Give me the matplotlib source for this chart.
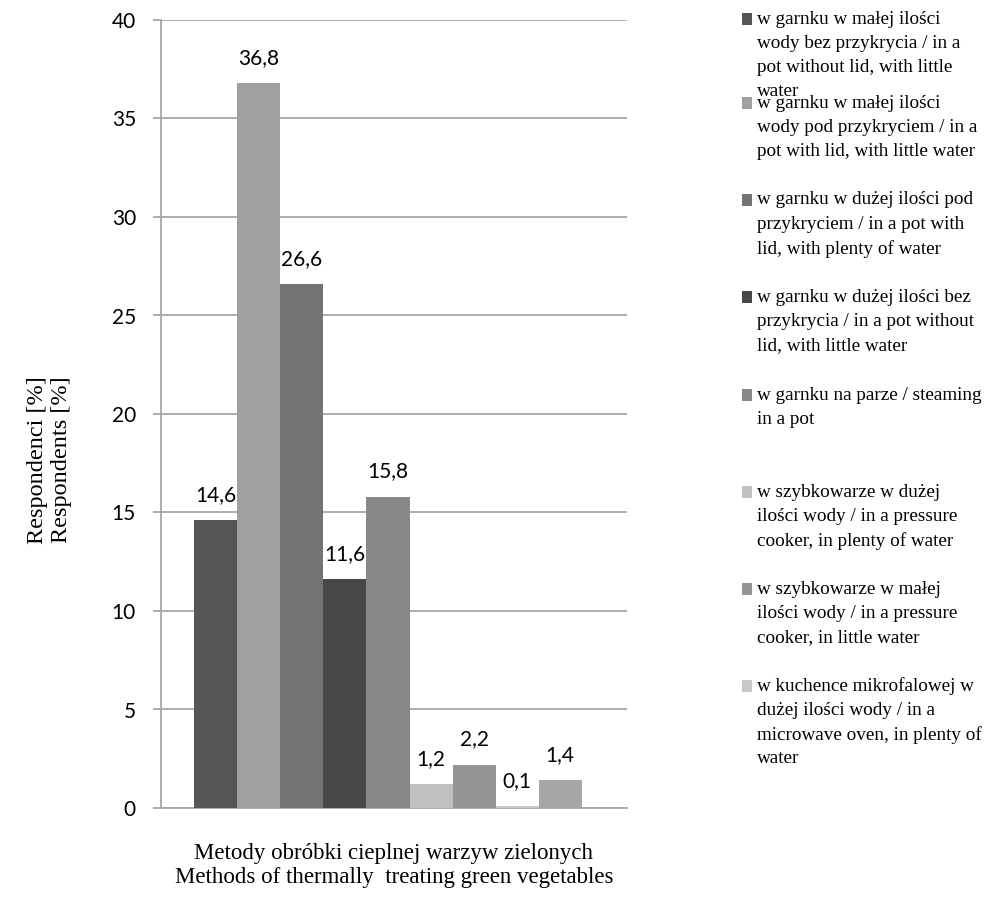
import matplotlib
matplotlib.use("Agg")
import matplotlib.pyplot as plt
from matplotlib.patches import Rectangle

values = [14.6, 36.8, 26.6, 11.6, 15.8, 1.2, 2.2, 0.1, 1.4]
value_labels = ["14,6", "36,8", "26,6", "11,6", "15,8", "1,2", "2,2", "0,1", "1,4"]
colors = ["#555555", "#a0a0a0", "#737373", "#474747", "#878787",
          "#c0c0c0", "#959595", "#c8c8c8", "#a6a6a6"]
legend_entries = [
    ["w garnku w małej ilości", "wody bez przykrycia / in a", "pot without lid, with little", "water"],
    ["w garnku w małej ilości", "wody pod przykryciem / in a", "pot with lid, with little water"],
    ["w garnku w dużej ilości pod", "przykryciem / in a pot with", "lid, with plenty of water"],
    ["w garnku w dużej ilości bez", "przykrycia / in a pot without", "lid, with little water"],
    ["w garnku na parze / steaming", "in a pot"],
    ["w szybkowarze w dużej", "ilości wody / in a pressure", "cooker, in plenty of water"],
    ["w szybkowarze w małej", "ilości wody / in a pressure", "cooker, in little water"],
    ["w kuchence mikrofalowej w", "dużej ilości wody / in a", "microwave oven, in plenty of", "water"],
]
yticks = [0, 5, 10, 15, 20, 25, 30, 35, 40]
xlabel_lines = ["Metody obróbki cieplnej warzyw zielonych",
                "Methods of thermally  treating green vegetables"]
ylabel_lines = ["Respondenci [%]", "Respondents [%]"]

W, H = 1007, 921
fig = plt.figure(figsize=(W / 100, H / 100), dpi=100)
ax = fig.add_axes([161 / W, 1 - 808 / H, 466 / W, 788 / H])

grid_c = "#a6a6a6"
x = list(range(len(values)))
ax.bar(x, values, width=1.0, color=colors, zorder=3)
ax.set_xlim(-1.27, 9.55)
ax.set_ylim(0, 40)
ax.set_yticks(yticks)
ax.set_yticklabels([str(t) for t in yticks], family="Lato", fontsize=15)
ax.set_xticks([])
ax.yaxis.grid(True, color=grid_c, linewidth=1.3, zorder=0)
for s in ["top", "right"]:
    ax.spines[s].set_visible(False)
for s in ["left", "bottom"]:
    ax.spines[s].set_color(grid_c)
    ax.spines[s].set_linewidth(1.3)
ax.tick_params(axis="y", direction="out", length=6, width=1.3, color=grid_c, pad=12)

for xi, v, lab in zip(x, values, value_labels):
    ax.annotate(lab, (xi, v), xytext=(0, 11), textcoords="offset points",
                ha="center", va="bottom", family="Lato", fontsize=15)

serif = "Liberation Serif"
# x label
fig.text(394 / W, 1 - 853 / H, xlabel_lines[0], ha="center", va="center", family=serif, fontsize=16.5)
fig.text(394 / W, 1 - 877 / H, xlabel_lines[1], ha="center", va="center", family=serif, fontsize=16.5)
# y label
fig.text(38 / W, 1 - 460 / H, ylabel_lines[0], ha="center", va="center", rotation=90, family=serif, fontsize=17.5)
fig.text(61 / W, 1 - 460 / H, ylabel_lines[1], ha="center", va="center", rotation=90, family=serif, fontsize=17.5)

# legend
first_line_y = [19, 103, 200, 297, 395, 492, 589, 686]
line_pitch = 24.3
for entry, y0, c in zip(legend_entries, first_line_y, colors):
    fig.patches.append(Rectangle((742 / W, 1 - (y0 + 6) / H), 10 / W, 12 / H,
                                 transform=fig.transFigure, facecolor=c, edgecolor="none"))
    for i, line in enumerate(entry):
        fig.text(757 / W, 1 - (y0 + i * line_pitch) / H, line, ha="left", va="center",
                 family=serif, fontsize=13.8)

fig.savefig("out.png", dpi=100)
